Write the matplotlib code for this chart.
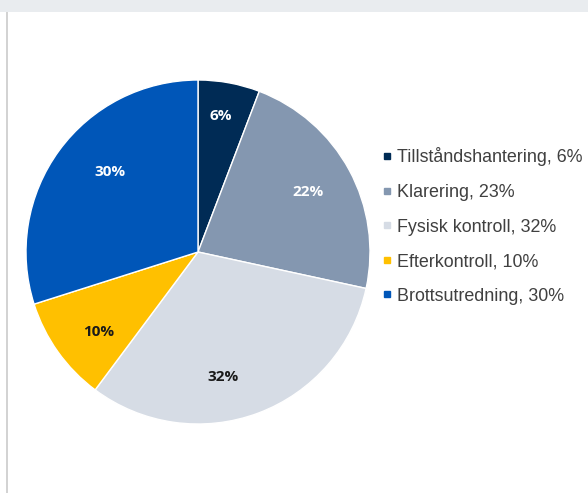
import matplotlib
matplotlib.use("Agg")
import matplotlib.pyplot as plt
from matplotlib.patches import Rectangle
from matplotlib.lines import Line2D
import numpy as np

categories = ["Tillståndshantering", "Klarering", "Fysisk kontroll", "Efterkontroll", "Brottsutredning"]
values = [5.8, 22.6, 31.8, 9.9, 29.9]
slice_labels = ["6%", "22%", "32%", "10%", "30%"]
legend_pct = ["6%", "23%", "32%", "10%", "30%"]
colors = ["#002B55", "#8497B0", "#D6DCE5", "#FFC000", "#0056B8"]
label_colors = ["white", "white", "#1a1a1a", "#1a1a1a", "white"]
# label placement (angle in degrees, distance as fraction of radius)
label_angles = [80.4, 28.4, -78.7, -141.0, 137.7]
label_dists = [0.80, 0.73, 0.74, 0.74, 0.69]

W, H = 588, 493
fig = plt.figure(figsize=(W / 100, H / 100), dpi=100)
fig.patch.set_facecolor("white")

# top band and left rule
fig.patches.append(Rectangle((0, 1 - 12 / H), 1, 12 / H, transform=fig.transFigure,
                             facecolor="#E9ECEF", edgecolor="none", zorder=0))
fig.patches.append(Rectangle((6 / W, 0), 2.5 / W, 1 - 12 / H, transform=fig.transFigure,
                             facecolor="#D3D3D3", edgecolor="none", zorder=0))

cx, cy, R = 198, 252, 172
ax = fig.add_axes([(cx - R) / W, (H - cy - R) / H, 2 * R / W, 2 * R / H])
wedges, _ = ax.pie(values, colors=colors, startangle=90, counterclock=False,
                   radius=1.0, wedgeprops=dict(edgecolor="white", linewidth=1.0))
ax.set_xlim(-1, 1)
ax.set_ylim(-1, 1)
ax.set_aspect("equal")
ax.axis("off")

for lab, col, ang, d in zip(slice_labels, label_colors, label_angles, label_dists):
    a = np.deg2rad(ang)
    ax.text(d * np.cos(a), d * np.sin(a), lab,
            ha="center", va="center", fontsize=11, fontweight="bold",
            color=col, family=["Open Sans", "DejaVu Sans"])

handles = [Line2D([0], [0], marker="s", linestyle="none", markersize=4.6,
                  markerfacecolor=c, markeredgecolor=c) for c in colors]
labels = [f"{c}, {p}" for c, p in zip(categories, legend_pct)]
leg = fig.legend(handles, labels, loc="center left",
                 bbox_to_anchor=(374 / W, 1 - 226 / H), frameon=False,
                 borderaxespad=0, handlelength=0.6, handletextpad=0.3,
                 labelspacing=0.98,
                 prop={"family": "Liberation Sans", "size": 12.9})
for t in leg.get_texts():
    t.set_color("#404040")

fig.savefig("out.png", dpi=100, facecolor="white")
